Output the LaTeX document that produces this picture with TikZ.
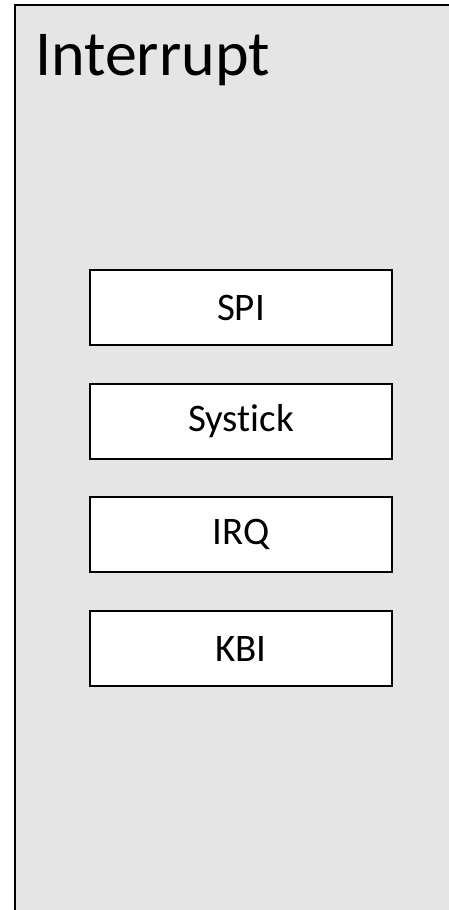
\documentclass[tikz,border=0pt]{standalone}
\usepackage{fontspec}
\setmainfont[Ligatures={NoCommon}]{Carlito}
\usetikzlibrary{positioning}
\definecolor{panelgray}{HTML}{E5E5E5}
\tikzset{
  panel/.style={draw=black, fill=panelgray, line width=2.5pt},
  irqbox/.style={draw=black, fill=white, line width=2pt, minimum width=302pt,
                 minimum height=75pt, inner sep=0pt, font=\fontsize{39}{39}\selectfont},
  titlelbl/.style={inner sep=0pt, anchor=base west, font=\fontsize{64}{64}\selectfont},
}
\begin{document}
\begin{tikzpicture}[x=1pt, y=1pt, node distance=36.7pt]
  \useasboundingbox (0,0) rectangle (449,-910);
  \clip (0,0) rectangle (449,-910);
  % panel
  \draw[panel] (15,-5) rectangle (470,-930);
  \node[titlelbl] (title) at (35,-75) {Interrupt};
  % sources
  \node[irqbox] (spi) at (241,-307.5) {SPI};
  \node[irqbox, below=of spi] (systick) {Systick};
  \node[irqbox, below=of systick] (irq) {IRQ};
  \node[irqbox, below=of irq] (kbi) {KBI};
\end{tikzpicture}
\end{document}
